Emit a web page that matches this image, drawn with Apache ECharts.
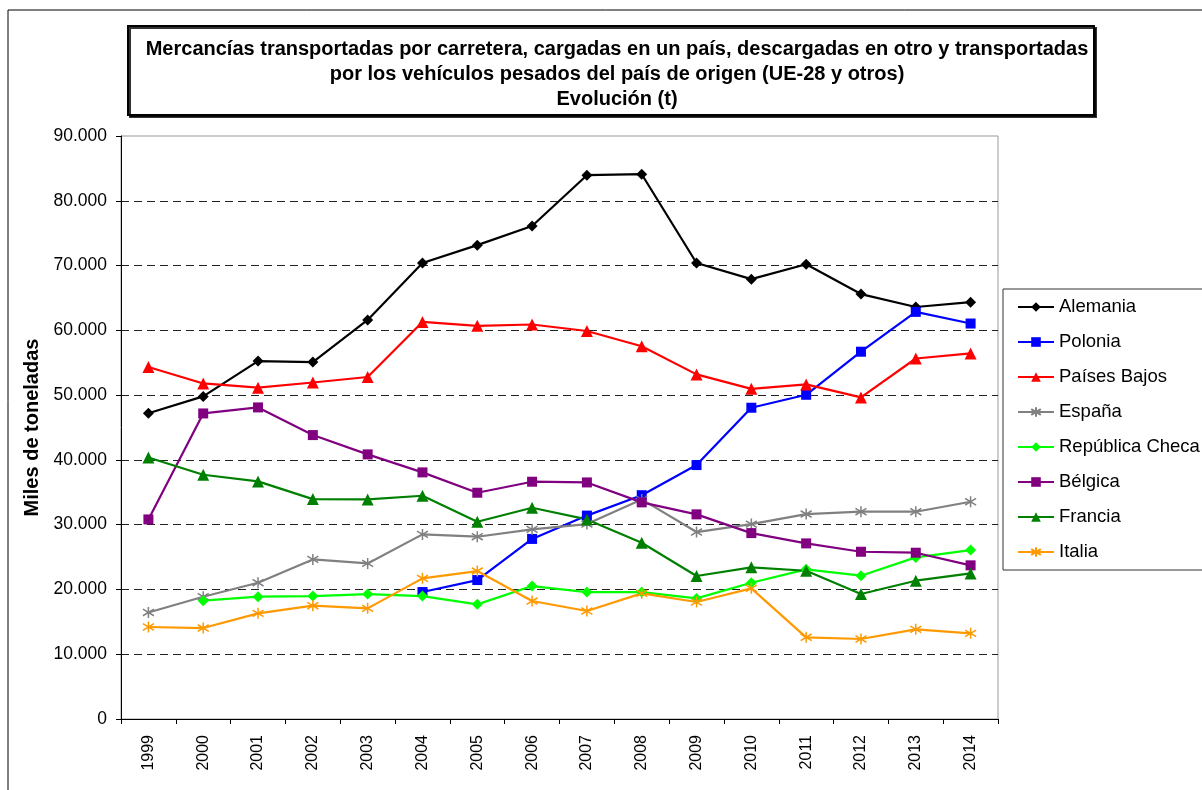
<!DOCTYPE html>
<html>
<head>
<meta charset="utf-8">
<script src="https://cdn.jsdelivr.net/npm/echarts@6/dist/echarts.min.js"></script>
<style>
  html, body { margin: 0; padding: 0; background: #fff; }
  #chart { width: 1202px; height: 790px; }
</style>
</head>
<body>
<div id="chart"></div>
<script>
// Data (miles de toneladas)
const years = ['1999', '2000', '2001', '2002', '2003', '2004', '2005', '2006',
  '2007', '2008', '2009', '2010', '2011', '2012', '2013', '2014']

const alemania = [47200, 49800, 55250, 55100, 61600, 70400, 73150, 76100,
  83950, 84100, 70400, 67900, 70200, 65600, 63600, 64350]
const polonia = [null, null, null, null, null, 19600, 21450, 27800,
  31400, 34550, 39200, 48050, 50050, 56700, 62850, 61050]
const paisesBajos = [54350, 51800, 51150, 51950, 52800, 61300, 60700, 60900,
  59900, 57550, 53200, 50970, 51650, 49650, 55650, 56430]
const espana = [16450, 18880, 21040, 24640, 24020, 28500, 28140, 29270,
  30090, 33900, 28860, 30090, 31640, 32000, 32000, 33540]
const republicaCheca = [null, 18260, 18880, 18980, 19290, 18980, 17700, 20520,
  19600, 19600, 18620, 21040, 23100, 22120, 24950, 26080]
const belgica = [30810, 47170, 48100, 43830, 40850, 38070, 34930, 36630,
  36520, 33440, 31590, 28700, 27110, 25820, 25670, 23720]
const francia = [40380, 37710, 36680, 33950, 33900, 34460, 30450, 32610,
  30810, 27210, 22070, 23410, 22890, 19290, 21350, 22480]
const italia = [14200, 14040, 16310, 17490, 17080, 21710, 22840, 18210,
  16670, 19400, 18060, 20170, 12610, 12350, 13840, 13220]

const FONT = 'Liberation Sans, Arial, sans-serif'
// asterisk marker (vertical bar + X), drawn as a stroked path
const STAR = 'path://M5 0 L5 10 M0 2 L10 8 M0 8 L10 2'

const fmt = (v) => String(v).replace(/\B(?=(\d{3})+(?!\d))/g, '.')

function makeSeries(name, data, color, symbol, size) {
  const isStar = symbol === STAR
  return {
    name,
    type: 'line',
    data,
    symbol,
    symbolSize: size,
    showAllSymbol: true,
    connectNulls: false,
    lineStyle: { color, width: 2.2 },
    itemStyle: isStar
      ? { color: 'rgba(0,0,0,0)', borderColor: color, borderWidth: 1.5 }
      : { color, borderColor: color, borderWidth: 0 },
    emphasis: { disabled: true },
    z: 3,
  }
}

const chart = echarts.init(document.getElementById('chart'), null, { renderer: 'canvas' })

chart.setOption({
  backgroundColor: '#fff',
  animation: false,
  textStyle: { fontFamily: FONT },
  title: {
    text: 'Mercancías transportadas por carretera, cargadas en un país, descargadas en otro y transportadas\npor los vehículos pesados del país de origen (UE-28 y otros)\nEvolución (t)',
    left: 612,
    top: 32,
    textAlign: 'center',
    textStyle: {
      fontFamily: FONT,
      fontSize: 20,
      fontWeight: 'bold',
      color: '#000',
      lineHeight: 25,
    },
  },
  graphic: [
    // outer frame
    {
      type: 'rect',
      shape: { x: 8, y: 10, width: 1300, height: 900 },
      style: { fill: 'none', stroke: '#000', lineWidth: 1 },
      silent: true,
      z: -10,
    },
    // title box
    {
      type: 'rect',
      shape: { x: 128, y: 26, width: 966, height: 89 },
      style: {
        fill: '#fff',
        stroke: '#000',
        lineWidth: 2,
        shadowColor: 'rgba(0,0,0,0.8)',
        shadowOffsetX: 2,
        shadowOffsetY: 2,
      },
      silent: true,
      z: -5,
    },
  ],
  legend: {
    orient: 'vertical',
    left: 1003,
    top: 289,
    padding: [8, 20, 8, 14],
    itemGap: 15,
    itemWidth: 36,
    itemHeight: 12,
    borderColor: '#333',
    borderWidth: 1,
    backgroundColor: '#fff',
    textStyle: { fontFamily: FONT, fontSize: 18.5, color: '#000', lineHeight: 20 },
    data: ['Alemania', 'Polonia', 'Países Bajos', 'España', 'República Checa',
      'Bélgica', 'Francia', 'Italia'],
  },
  grid: {
    left: 121,
    right: 204,
    top: 136,
    bottom: 71,
    show: true,
    borderColor: '#999',
    borderWidth: 1,
    backgroundColor: '#fff',
  },
  xAxis: {
    type: 'category',
    data: years,
    boundaryGap: true,
    axisLine: { lineStyle: { color: '#000', width: 1 } },
    axisTick: { show: true, length: 5, lineStyle: { color: '#000' } },
    axisLabel: {
      rotate: 90,
      margin: 16,
      color: '#000',
      fontFamily: FONT,
      fontSize: 16,
      interval: 0,
    },
    splitLine: { show: false },
  },
  yAxis: {
    type: 'value',
    min: 0,
    max: 90000,
    interval: 10000,
    name: 'Miles de toneladas',
    nameLocation: 'middle',
    nameGap: 77,
    nameTextStyle: { fontFamily: FONT, fontSize: 20, fontWeight: 'bold', color: '#000' },
    axisLine: { show: true, lineStyle: { color: '#000', width: 1 } },
    axisTick: { show: true, length: 5, lineStyle: { color: '#000' } },
    axisLabel: {
      color: '#000',
      fontFamily: FONT,
      fontSize: 17.5,
      margin: 14,
      formatter: fmt,
    },
    splitLine: {
      show: true,
      showMinLine: false,
      showMaxLine: false,
      lineStyle: { color: '#222', width: 1, type: [8, 5] },
    },
  },
  series: [
    makeSeries('Alemania', alemania, '#000000', 'diamond', 11),
    makeSeries('Polonia', polonia, '#0000FF', 'rect', 10),
    makeSeries('Países Bajos', paisesBajos, '#FF0000', 'triangle', 12),
    makeSeries('España', espana, '#808080', STAR, 11),
    makeSeries('República Checa', republicaCheca, '#00FF00', 'diamond', 11),
    makeSeries('Bélgica', belgica, '#800080', 'rect', 10),
    makeSeries('Francia', francia, '#008000', 'triangle', 12),
    makeSeries('Italia', italia, '#FF9900', STAR, 11),
  ],
})
</script>
</body>
</html>
